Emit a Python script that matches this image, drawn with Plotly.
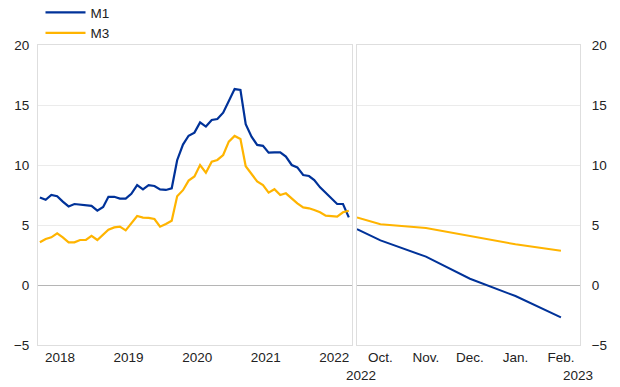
import plotly.graph_objects as go

# ---- data ----
hist_months = [
    "2018-03-01", "2018-04-01", "2018-05-01", "2018-06-01", "2018-07-01", "2018-08-01",
    "2018-09-01", "2018-10-01", "2018-11-01", "2018-12-01", "2019-01-01", "2019-02-01",
    "2019-03-01", "2019-04-01", "2019-05-01", "2019-06-01", "2019-07-01", "2019-08-01",
    "2019-09-01", "2019-10-01", "2019-11-01", "2019-12-01", "2020-01-01", "2020-02-01",
    "2020-03-01", "2020-04-01", "2020-05-01", "2020-06-01", "2020-07-01", "2020-08-01",
    "2020-09-01", "2020-10-01", "2020-11-01", "2020-12-01", "2021-01-01", "2021-02-01",
    "2021-03-01", "2021-04-01", "2021-05-01", "2021-06-01", "2021-07-01", "2021-08-01",
    "2021-09-01", "2021-10-01", "2021-11-01", "2021-12-01", "2022-01-01", "2022-02-01",
    "2022-03-01", "2022-04-01", "2022-05-01", "2022-06-01", "2022-07-01", "2022-08-01",
    "2022-09-01",
]
m1_hist = [
    7.3, 7.1, 7.5, 7.4, 6.95, 6.55, 6.75, 6.7, 6.67, 6.6, 6.2, 6.5,
    7.35, 7.35, 7.2, 7.2, 7.6, 8.33, 7.97, 8.33, 8.25, 7.97, 7.92, 8.06,
    10.4, 11.7, 12.44, 12.7, 13.55, 13.2, 13.75, 13.83, 14.36, 15.28, 16.33, 16.25,
    13.4, 12.36, 11.67, 11.6, 11.03, 11.06, 11.06, 10.7, 10.0, 9.8, 9.17, 9.08,
    8.75, 8.14, 7.7, 7.17, 6.75, 6.75, 5.64,
]
m3_hist = [
    3.56, 3.83, 3.97, 4.3, 3.97, 3.55, 3.56, 3.75, 3.75, 4.1, 3.75, 4.17,
    4.6, 4.8, 4.86, 4.55, 5.1, 5.75, 5.62, 5.6, 5.5, 4.86, 5.08, 5.36,
    7.4, 7.9, 8.7, 9.05, 10.0, 9.36, 10.28, 10.42, 10.83, 11.95, 12.42, 12.17,
    9.9, 9.25, 8.63, 8.33, 7.7, 7.98, 7.5, 7.64, 7.22, 6.8, 6.47, 6.39,
    6.25, 6.06, 5.78, 5.75, 5.69, 6.06, 6.19,
]

proj_dates = ["2022-09-15", "2022-10-01", "2022-11-01", "2022-12-01", "2023-01-01", "2023-02-01"]
m1_proj = [4.66, 3.72, 2.36, 0.52, -0.92, -2.7]
m3_proj = [5.62, 5.06, 4.75, 4.05, 3.39, 2.85]

year_ticks = ["2018-06-16", "2019-06-16", "2020-06-16", "2021-06-16", "2022-06-16"]
year_labels = ["2018", "2019", "2020", "2021", "2022"]
month_ticks = ["2022-10-01", "2022-11-01", "2022-12-01", "2023-01-01", "2023-02-01"]
month_labels = ["Oct.", "Nov.", "Dec.", "Jan.", "Feb."]
y_ticks = [-5, 0, 5, 10, 15, 20]

BLUE = "#003299"
YELLOW = "#FFB400"
FONT = "Liberation Sans, Arial, sans-serif"
FS = 13.5

fig = go.Figure()
fig.add_trace(go.Scatter(x=hist_months, y=m1_hist, mode="lines", name="M1",
                         line=dict(color=BLUE, width=2.2), xaxis="x", yaxis="y"))
fig.add_trace(go.Scatter(x=hist_months, y=m3_hist, mode="lines", name="M3",
                         line=dict(color=YELLOW, width=2.2), xaxis="x", yaxis="y"))
fig.add_trace(go.Scatter(x=proj_dates, y=m1_proj, mode="lines", name="M1", showlegend=False,
                         line=dict(color=BLUE, width=2), xaxis="x2", yaxis="y2"))
fig.add_trace(go.Scatter(x=proj_dates, y=m3_proj, mode="lines", name="M3", showlegend=False,
                         line=dict(color=YELLOW, width=2), xaxis="x2", yaxis="y2"))

W, H = 620, 387
ml, mr, mt, mb = 38, 40, 45, 42
pw = W - ml - mr
ph = H - mt - mb

def px(xp):
    return (xp - ml) / pw

GRID = "#ebebeb"
BORDER = "#dedede"

common_y = dict(range=[-5, 20], tickvals=y_ticks, showgrid=True, gridcolor=GRID, gridwidth=1,
                zeroline=True, zerolinecolor="#b5b5b5", zerolinewidth=1.3,
                showline=True, linecolor=BORDER, linewidth=1, mirror=True,
                tickfont=dict(family=FONT, size=FS, color="#222"), ticks="")
common_x = dict(showgrid=False, zeroline=False, showline=True, linecolor=BORDER,
                linewidth=1, mirror=True, ticks="",
                tickfont=dict(family=FONT, size=FS, color="#222"))

fig.update_layout(
    width=W, height=H,
    margin=dict(l=ml, r=mr, t=mt, b=mb, autoexpand=False),
    paper_bgcolor="white", plot_bgcolor="white",
    font=dict(family=FONT, size=FS, color="#222"),
    xaxis=dict(domain=[0, px(352)], type="date", range=["2018-02-19", "2022-09-18"],
               tickmode="array", tickvals=year_ticks, ticktext=year_labels, anchor="y",
               **common_x),
    xaxis2=dict(domain=[px(357), 1], type="date", range=["2022-09-15", "2023-02-14"],
                tickmode="array", tickvals=month_ticks, ticktext=month_labels, anchor="y2",
                **common_x),
    yaxis=dict(domain=[0, 1], anchor="x", side="left", ticklabelstandoff=5, **common_y),
    yaxis2=dict(domain=[0, 1], anchor="x2", side="right", ticklabelstandoff=8, **common_y),
    legend=dict(x=px(40.5), y=1 + (mt + 3) / ph, xanchor="left", yanchor="top",
                bgcolor="rgba(0,0,0,0)", borderwidth=0, itemwidth=40, tracegroupgap=0,
                font=dict(family=FONT, size=FS, color="#222")),
    showlegend=True,
)

fig.add_annotation(text="2022", xref="paper", yref="paper", x=px(361), y=-(375 - 345) / ph,
                   xanchor="center", yanchor="middle", showarrow=False,
                   font=dict(family=FONT, size=FS, color="#222"))
fig.add_annotation(text="2023", xref="paper", yref="paper", x=px(578), y=-(375 - 345) / ph,
                   xanchor="center", yanchor="middle", showarrow=False,
                   font=dict(family=FONT, size=FS, color="#222"))

fig.write_html("out.html", config={"displayModeBar": False},
               post_script="document.body.style.margin='0';document.body.style.overflow='hidden';")
